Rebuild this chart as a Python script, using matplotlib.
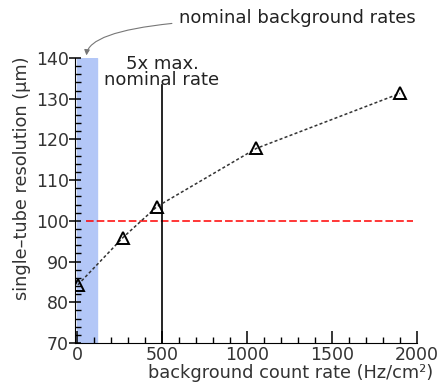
import numpy as np
import matplotlib.pyplot as plt
from matplotlib.ticker import MultipleLocator

# data
rate = [5, 270, 470, 1055, 1900]
resolution = [84.3, 95.9, 103.5, 117.8, 131.3]
nominal_band = [0, 115]
limit_res = 100
five_x_rate = 500

plt.rcParams['font.family'] = ['DejaVu Sans']
fs = 12.8
fig = plt.figure(figsize=(4.39, 3.83), dpi=100)
ax = fig.add_axes([0.1708, 0.1044, 0.7792, 0.7442])

ax.axvspan(nominal_band[0], nominal_band[1], color='#b3c7f7', zorder=1)
ax.plot([50, 1975], [limit_res, limit_res], color='red', ls=(0, (5, 2)), lw=1.1, zorder=2)
ax.plot([five_x_rate, five_x_rate], [70, 133.4], color='black', lw=1.2, zorder=2)
ax.plot(rate, resolution, color='#333333', ls=(0, (2, 1.5)), lw=1.1,
        marker='^', ms=8, mfc='none', mec='black', mew=1.4, zorder=3)

ax.set_xlim(-12, 2000)
ax.set_ylim(70, 140)
ax.xaxis.set_major_locator(MultipleLocator(500))
ax.xaxis.set_minor_locator(MultipleLocator(100))
ax.yaxis.set_major_locator(MultipleLocator(10))
ax.yaxis.set_minor_locator(MultipleLocator(2))
ax.spines['top'].set_visible(False)
ax.spines['right'].set_visible(False)
ax.tick_params(which='major', length=9, width=1.1, labelsize=12.5, labelcolor='#333333')
ax.tick_params(axis='y', which='major', direction='inout', pad=0)
ax.tick_params(axis='x', which='major', direction='in', pad=2)
ax.tick_params(which='minor', direction='in', length=4, width=1)

ax.set_xlabel('background count rate (Hz/cm²)', fontsize=fs, color='#333333')
ax.xaxis.set_label_coords(0.629, -0.105)
ax.xaxis.label.set_va('center')
ax.set_ylabel('single\u2013tube resolution (μm)', fontsize=fs, color='#333333')
ax.yaxis.set_label_coords(-0.155, 0.58)
ax.yaxis.label.set_va('center')

ax.text(five_x_rate, 136.5, '5x max.\nnominal rate', ha='center', va='center',
        fontsize=13, color='#222222', linespacing=0.85)
ax.annotate('nominal background rates', xy=(55, 140.3), xycoords='data',
            xytext=(0.677, 0.952), textcoords='figure fraction',
            ha='center', va='center', fontsize=13, color='#222222',
            arrowprops=dict(arrowstyle='-|>', color='#777777', lw=0.8,
                            connectionstyle='angle3,angleA=0,angleB=90',
                            shrinkA=3, shrinkB=1, mutation_scale=8),
            annotation_clip=False)

fig.savefig('out.png', dpi=100)
